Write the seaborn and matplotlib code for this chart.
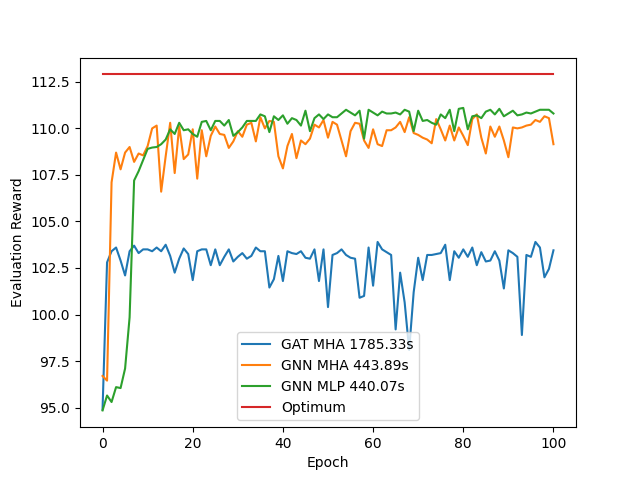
import numpy as np
import matplotlib
matplotlib.use("Agg")
import matplotlib.pyplot as plt
import seaborn as sns

# evaluation reward per epoch
epochs = np.arange(101)

gat_mha = [94.9, 102.8, 103.4, 103.6, 102.9, 102.1, 103.4, 103.7, 103.3, 103.5,
           103.5, 103.4, 103.6, 103.4, 103.75, 103.15, 102.25, 103.0, 103.55, 103.25,
           101.85, 103.4, 103.5, 103.5, 102.65, 103.5, 102.65, 103.1, 103.5, 102.85,
           103.1, 103.3, 103.0, 103.15, 103.6, 103.4, 103.4, 101.45, 101.9, 103.15,
           101.8, 103.4, 103.3, 103.25, 103.4, 103.05, 103.0, 103.5, 101.8, 103.5,
           100.4, 103.2, 103.3, 103.5, 103.2, 103.05, 103.0, 100.9, 101.0, 103.6,
           101.55, 103.9, 103.5, 103.35, 103.2, 99.2, 102.25, 100.65, 98.1, 101.2,
           103.05, 101.85, 103.2, 103.2, 103.25, 103.3, 103.75, 101.85, 103.4, 103.05,
           103.5, 103.1, 103.6, 102.65, 103.35, 102.85, 102.9, 103.4, 102.9, 101.4,
           103.45, 103.3, 103.1, 98.9, 103.2, 103.1, 103.9, 103.6, 102.0, 102.45, 103.45]

gnn_mha = [96.7, 96.45, 107.1, 108.7, 107.8, 108.7, 109.0, 108.2, 108.65, 108.55,
           109.05, 110.0, 110.15, 106.6, 108.5, 110.3, 107.6, 110.1, 108.35, 108.6,
           109.95, 107.3, 109.9, 108.5, 109.6, 110.1, 109.7, 109.65, 108.95, 109.3,
           109.85, 109.55, 110.2, 110.3, 109.3, 110.6, 110.0, 110.4, 110.35, 108.5,
           107.85, 109.05, 109.7, 108.4, 109.35, 109.15, 109.45, 110.2, 110.05, 110.45,
           109.5, 110.35, 110.2, 109.35, 108.5, 109.85, 110.3, 110.25, 109.35, 108.95,
           109.95, 109.15, 109.05, 109.9, 109.9, 110.05, 110.35, 109.8, 110.6, 109.75,
           109.65, 109.5, 109.4, 109.2, 110.5, 109.95, 109.35, 110.15, 109.35, 110.05,
           109.6, 109.1, 110.5, 110.75, 109.5, 108.65, 110.1, 109.55, 110.1, 109.35,
           108.45, 110.05, 110.0, 110.05, 110.15, 110.2, 110.45, 110.35, 110.65, 110.55, 109.15]

gnn_mlp = [94.85, 95.65, 95.3, 96.1, 96.05, 97.1, 99.85, 107.2, 107.7, 108.3,
           108.9, 108.97, 109.0, 109.15, 109.4, 109.95, 109.7, 110.3, 109.9, 109.95,
           109.7, 109.55, 110.35, 110.4, 109.9, 110.4, 110.4, 110.15, 110.45, 109.6,
           109.8, 110.05, 110.4, 110.4, 110.4, 110.75, 110.65, 109.8, 110.65, 110.45,
           110.7, 110.25, 110.55, 110.45, 110.15, 110.95, 109.85, 110.55, 110.75, 110.5,
           110.75, 110.6, 110.6, 110.8, 111.0, 110.85, 110.7, 110.95, 109.45, 111.0,
           110.85, 110.7, 110.9, 110.8, 110.8, 110.85, 110.75, 111.0, 110.9, 109.85,
           110.95, 110.4, 110.45, 110.3, 110.2, 110.75, 110.55, 111.0, 109.85, 111.05,
           111.1, 109.95, 110.65, 110.7, 110.55, 110.9, 111.0, 110.75, 111.05, 110.65,
           110.8, 110.95, 110.7, 110.75, 110.85, 110.8, 110.9, 111.0, 111.0, 111.0, 110.8]

optimum_value = 112.9
optimum = [optimum_value] * len(epochs)

labels = ["GAT MHA 1785.33s", "GNN MHA 443.89s", "GNN MLP 440.07s", "Optimum"]

fig = plt.figure(figsize=(6.4, 4.8), dpi=100)
palette = sns.color_palette("tab10")

# Draw lines
for i, (series, label) in enumerate(zip([gat_mha, gnn_mha, gnn_mlp, optimum], labels)):
    sns.lineplot(x=epochs, y=series, label=label, color=palette[i], linewidth=1.5)

# Makeup
plt.xlabel("Epoch")
plt.ylabel("Evaluation Reward")
plt.legend(loc="lower center")

plt.savefig("out.png", dpi=100)
